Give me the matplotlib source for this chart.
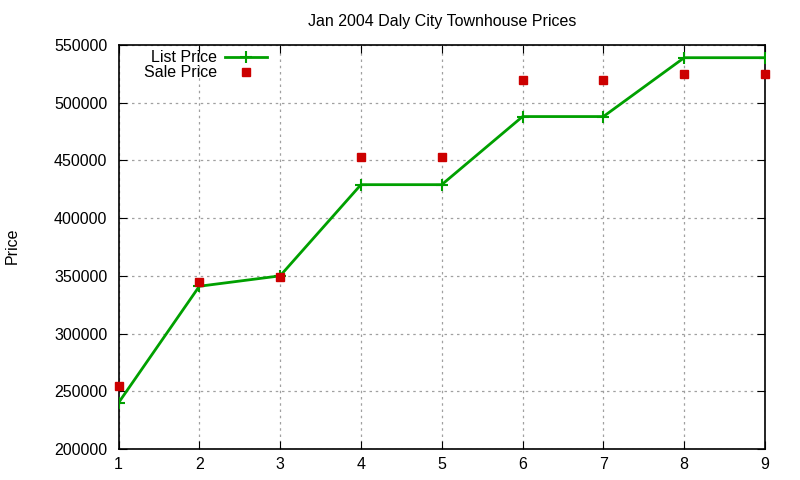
import matplotlib
matplotlib.use("Agg")
import matplotlib.pyplot as plt

x = [1, 2, 3, 4, 5, 6, 7, 8, 9]
list_price = [240000, 341000, 350000, 429000, 429000, 488000, 488000, 539000, 539000]
sale_price = [255000, 345000, 349000, 453000, 453000, 520000, 520000, 525000, 525000]
yticks = [200000, 250000, 300000, 350000, 400000, 450000, 500000, 550000]

plt.rcParams['font.family'] = ['Liberation Sans', 'DejaVu Sans']
fig = plt.figure(figsize=(8, 4.8), dpi=100)
ax = fig.add_axes([118.5/800, 1 - 449/480, (765-118.5)/800, (449-45)/480])

ax.plot(x, list_price, color='#00a000', lw=2, marker='+', ms=8, mew=1.5,
        label='List Price', zorder=3)
ax.plot(x, sale_price, ls='none', marker='s', ms=5.5, color='#cc0000',
        label='Sale Price', zorder=4, clip_on=False)

ax.set_xlim(1, 9)
ax.set_ylim(200000, 550000)
ax.set_xticks(x)
ax.set_yticks(yticks)
ax.set_yticklabels([str(v) for v in yticks])
ax.grid(True, color='#a0a0a0', ls=(0, (2, 3)), lw=0.9)
ax.tick_params(direction='in', top=True, right=True, length=6, labelsize=11.5)
ax.tick_params(axis='y', pad=8)
ax.tick_params(axis='x', pad=6)
for s in ax.spines.values():
    s.set_linewidth(1.2)

ax.set_title('Jan 2004 Daly City Townhouse Prices', fontsize=11.5, pad=14)
fig.text(12/800, 1 - 246/480, 'Price', rotation=90, va='center', ha='center', fontsize=11.5)

leg = ax.legend(loc='upper left', bbox_to_anchor=(133/800, 1 - 39/480),
                bbox_transform=fig.transFigure, frameon=False, markerfirst=False,
                fontsize=11.5, handlelength=2.6, handletextpad=0.5,
                labelspacing=0.0, borderpad=0.2)

fig.savefig('out.png', dpi=100)
